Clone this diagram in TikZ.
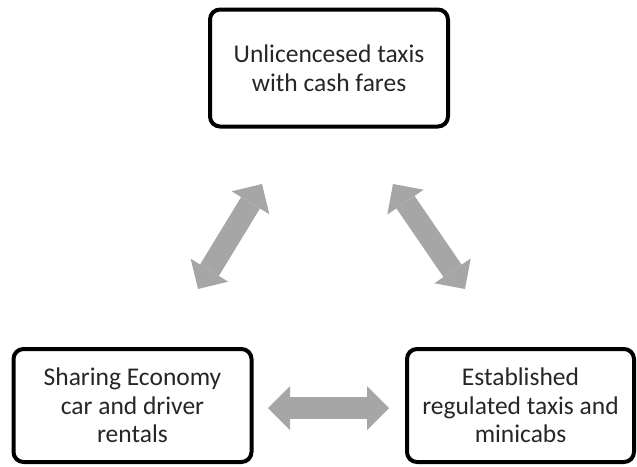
\documentclass[tikz,border=0pt]{standalone}
\usepackage{fontspec}
\setmainfont{Carlito}
\usetikzlibrary{arrows.meta}
\definecolor{TaxiGray}{HTML}{A6A6A6}
\definecolor{TaxiText}{HTML}{262626}

\begin{document}
\begin{tikzpicture}[x=1pt,y=-1pt,
  modebox/.style={draw=black,line width=4pt,rounded corners=10pt,
    minimum width=238pt,minimum height=117pt,align=center,inner sep=0pt,
    font=\fontsize{25.5}{28.5}\selectfont,text=TaxiText},
  linkarrow/.style={draw=TaxiGray,line width=22pt,
    {Triangle[width=44pt,length=22pt,line width=0pt]}-{Triangle[width=44pt,length=22pt,line width=0pt]}}]
  \clip (0,0) rectangle (637,466);
  % the three kinds of service
  \node[modebox] (unlic) at (329,68) {Unlicencesed taxis\\with cash fares};
  \node[modebox,minimum height=113pt] (sharing) at (132.5,405.5) {Sharing Economy\\car and driver\\rentals};
  \node[modebox,minimum height=113pt,minimum width=227pt] (estab) at (520.5,405.5) {Established\\regulated taxis and\\minicabs};
  % arrow ends
  \coordinate (unlicL) at (262,184);
  \coordinate (sharingT) at (198,289);
  \coordinate (unlicR) at (393,184);
  \coordinate (estabT) at (465,289);
  \coordinate (sharingR) at (268,408);
  \coordinate (estabL) at (389,408);
  \draw[linkarrow] (unlicL) -- (sharingT);
  \draw[linkarrow] (unlicR) -- (estabT);
  \draw[linkarrow] (sharingR) -- (estabL);
\end{tikzpicture}
\end{document}
